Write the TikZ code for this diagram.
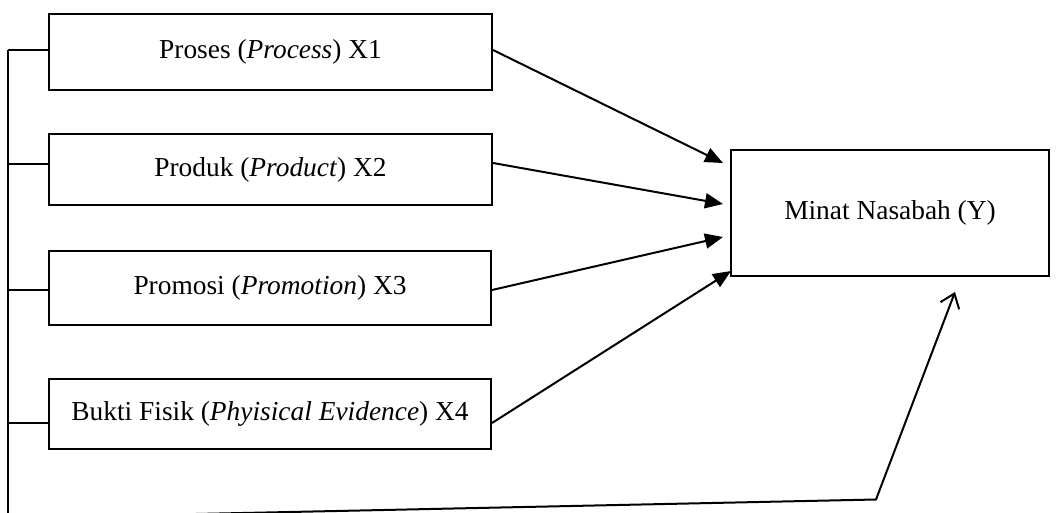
\documentclass[tikz,border=0pt]{standalone}
\usepackage{fontspec}
\setmainfont{Liberation Serif}
\usetikzlibrary{arrows.meta}
\begin{document}
\begin{tikzpicture}[x=1pt,y=1pt,
  line width=2pt,
  varbox/.style={draw, line width=2pt, minimum width=443, minimum height=72, inner sep=0pt,
    font=\fontsize{27.4}{32}\selectfont},
  arr/.style={-{Triangle[length=18pt,width=15pt]}},
  openarr/.style={-{Straight Barb[length=13pt,width=20pt]}}]
\useasboundingbox (0,0) rectangle (1059,512);
\clip (0,0) rectangle (1059,512);
\node[varbox, minimum height=76] (b1) at (270.5,460) {Proses (\textit{Process}) X1};
\node[varbox, minimum height=71] (b2) at (270.5,342.5) {Produk (\textit{Product}) X2};
\node[varbox, minimum width=442, minimum height=74] (b3) at (270,224) {Promosi (\textit{Promotion}) X3};
\node[varbox, minimum width=442, minimum height=70] (b4) at (270,98) {Bukti Fisik (\textit{Phyisical Evidence}) X4};
\node[varbox, minimum width=318, minimum height=126] (y) at (890,299) {Minat Nasabah (Y)};
\coordinate (top) at (8,462);
\coordinate (bot) at (8,-6);
\coordinate (bend) at (876,12.5);
\draw (top) -- (bot);
\draw ([yshift=2]b1.west) -- ([yshift=2]b1.west -| top);
\draw ([yshift=5.5]b2.west) -- ([yshift=5.5]b2.west -| top);
\draw ([yshift=-2]b3.west) -- ([yshift=-2]b3.west -| top);
\draw ([yshift=-9]b4.west) -- ([yshift=-9]b4.west -| top);
\draw[arr] ([yshift=2]b1.east) -- ([xshift=-7,yshift=50]y.west);
\draw[arr] ([yshift=6.5]b2.east) -- ([xshift=-7,yshift=9]y.west);
\draw[arr] ([yshift=-2]b3.east) -- ([xshift=-7,yshift=-24]y.west);
\draw[arr] ([yshift=-9]b4.east) -- ([xshift=1,yshift=6]y.south west);
\draw[openarr] (bot) -- (bend) -- (955,220);
\end{tikzpicture}
\end{document}
